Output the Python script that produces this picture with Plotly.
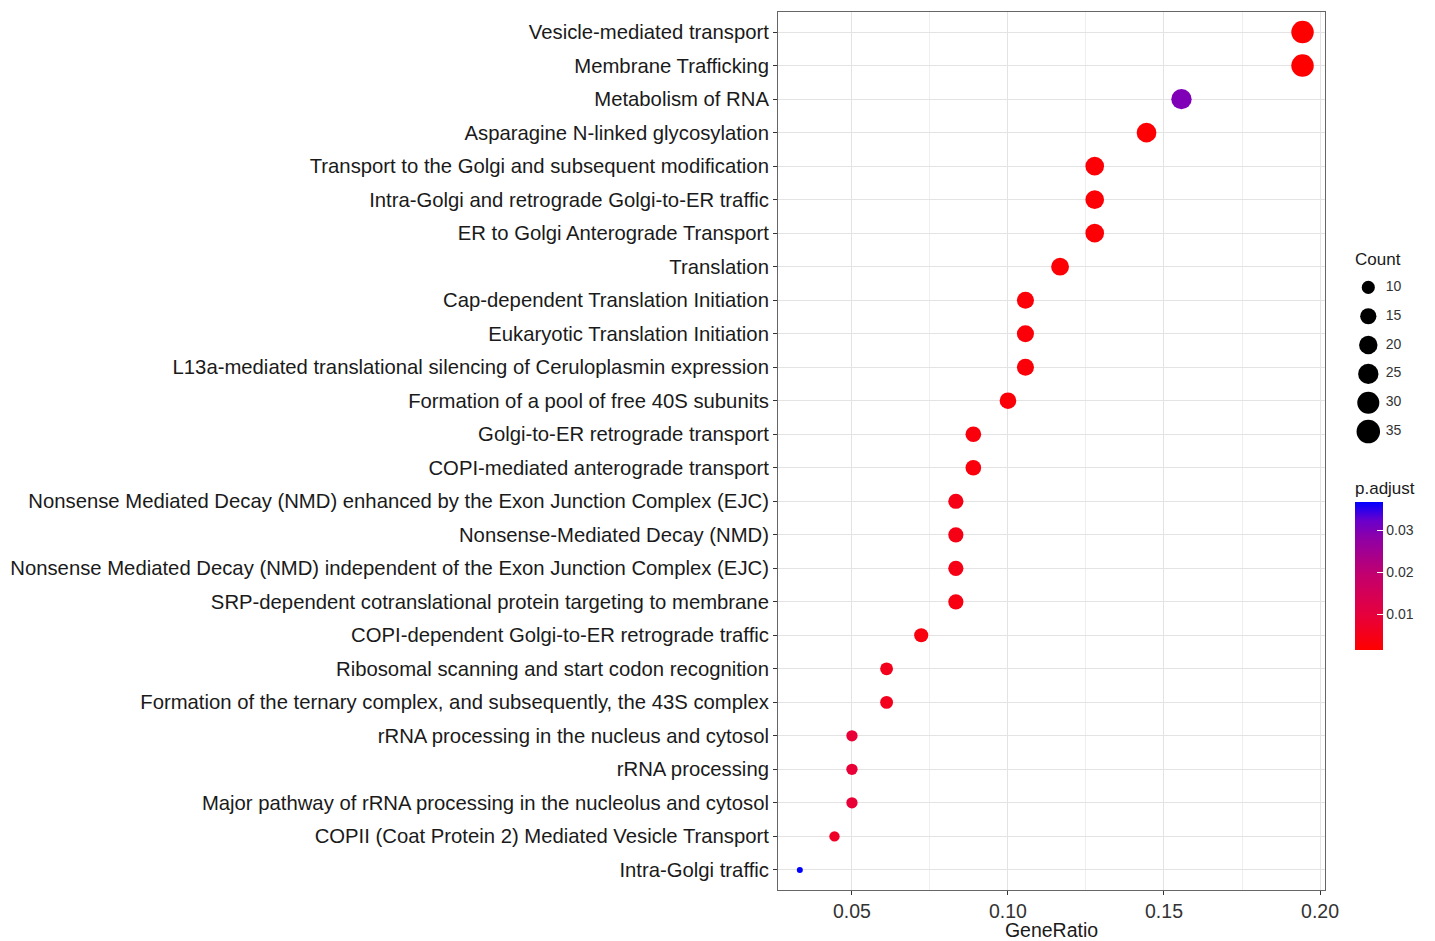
import plotly.graph_objects as go

# Enriched pathways, listed top to bottom
pathways = [
    "Vesicle-mediated transport",
    "Membrane Trafficking",
    "Metabolism of RNA",
    "Asparagine N-linked glycosylation",
    "Transport to the Golgi and subsequent modification",
    "Intra-Golgi and retrograde Golgi-to-ER traffic",
    "ER to Golgi Anterograde Transport",
    "Translation",
    "Cap-dependent Translation Initiation",
    "Eukaryotic Translation Initiation",
    "L13a-mediated translational silencing of Ceruloplasmin expression",
    "Formation of a pool of free 40S subunits",
    "Golgi-to-ER retrograde transport",
    "COPI-mediated anterograde transport",
    "Nonsense Mediated Decay (NMD) enhanced by the Exon Junction Complex (EJC)",
    "Nonsense-Mediated Decay (NMD)",
    "Nonsense Mediated Decay (NMD) independent of the Exon Junction Complex (EJC)",
    "SRP-dependent cotranslational protein targeting to membrane",
    "COPI-dependent Golgi-to-ER retrograde traffic",
    "Ribosomal scanning and start codon recognition",
    "Formation of the ternary complex, and subsequently, the 43S complex",
    "rRNA processing in the nucleus and cytosol",
    "rRNA processing",
    "Major pathway of rRNA processing in the nucleolus and cytosol",
    "COPII (Coat Protein 2) Mediated Vesicle Transport",
    "Intra-Golgi traffic",
]

gene_ratio = [0.1944, 0.1944, 0.1556, 0.1444, 0.1278, 0.1278, 0.1278, 0.1167,
              0.1056, 0.1056, 0.1056, 0.1000, 0.0889, 0.0889, 0.0833, 0.0833,
              0.0833, 0.0833, 0.0722, 0.0611, 0.0611, 0.0500, 0.0500, 0.0500,
              0.0444, 0.0333]

gene_count = [35, 35, 28, 26, 23, 23, 23, 21, 19, 19, 19, 18, 16, 16, 15, 15,
              15, 15, 13, 11, 11, 9, 9, 9, 8, 6]

p_adjust = [0.0015, 0.0016, 0.0300, 0.0020, 0.0022, 0.0022, 0.0022, 0.0024,
            0.0028, 0.0028, 0.0028, 0.0026, 0.0032, 0.0032, 0.0045, 0.0045,
            0.0045, 0.0040, 0.0035, 0.0055, 0.0055, 0.0090, 0.0090, 0.0090,
            0.0070, 0.0368]

count_breaks = [10, 15, 20, 25, 30, 35]
padj_ticks = [0.01, 0.02, 0.03]
x_ticks = [0.05, 0.10, 0.15, 0.20]
x_tick_labels = ["0.05", "0.10", "0.15", "0.20"]

# size scale: area-style mapping of count onto marker diameter (px)
C_MIN, C_MAX = 6, 35
D_MIN, D_MAX = 6.0, 22.5


def diameter(c):
    frac = (c - C_MIN) / (C_MAX - C_MIN)
    return D_MIN + (D_MAX - D_MIN) * max(frac, 0) ** 0.5


P_MIN, P_MAX = 0.0015, 0.0368
colorscale = [
    [0.0, "#FF0000"],
    [0.25, "#E5003F"],
    [0.5, "#C4006C"],
    [0.75, "#9000A5"],
    [0.875, "#6A00CC"],
    [1.0, "#0000FF"],
]

FONT = "Liberation Sans, Arial, Helvetica, sans-serif"
W, H = 1435, 941
ML, MR, MT, MB = 778, 5, 12, 51
PW = W - ML - MR
PH = H - MT - MB
PANEL_RIGHT = 1325


def px_x(px):
    return (px - ML) / PW


def px_y(py):
    return (H - MB - py) / PH


n = len(pathways)
ypos = [n - 1 - i for i in range(n)]

fig = go.Figure()

fig.add_trace(go.Scatter(
    x=gene_ratio,
    y=ypos,
    mode="markers",
    marker=dict(
        size=[diameter(c) for c in gene_count],
        color=p_adjust,
        cmin=P_MIN,
        cmax=P_MAX,
        colorscale=colorscale,
        line=dict(width=0),
        opacity=1,
        colorbar=dict(
            title=dict(text="p.adjust", side="top",
                       font=dict(family=FONT, size=17, color="#1a1a1a")),
            x=px_x(1355), xanchor="left", xpad=0,
            y=px_y(650), yanchor="bottom", ypad=0,
            len=172, lenmode="pixels",
            thickness=28, thicknessmode="pixels",
            outlinewidth=0,
            tickvals=padj_ticks,
            ticktext=[f"{v:.2f}" for v in padj_ticks],
            ticks="inside", ticklen=6, tickcolor="white", tickwidth=1,
            tickfont=dict(family=FONT, size=14, color="#333333"),
        ),
    ),
    showlegend=False,
    hovertemplate="%{x}<extra></extra>",
))

# Count size legend drawn on its own small axes
fig.add_trace(go.Scatter(
    x=[0.19] * len(count_breaks),
    y=list(range(len(count_breaks))),
    mode="markers",
    marker=dict(size=[diameter(c) + 1 for c in count_breaks], color="#000000",
                opacity=1, line=dict(width=0)),
    xaxis="x2", yaxis="y2", showlegend=False, hoverinfo="skip",
))
fig.add_trace(go.Scatter(
    x=[0.44] * len(count_breaks),
    y=list(range(len(count_breaks))),
    mode="text",
    text=[str(c) for c in count_breaks],
    textposition="middle right",
    textfont=dict(family=FONT, size=14, color="#333333"),
    xaxis="x2", yaxis="y2", showlegend=False, hoverinfo="skip",
))

grid_minor = [0.075, 0.125, 0.175]

fig.update_layout(
    width=W, height=H,
    margin=dict(l=ML, r=MR, t=MT, b=MB, autoexpand=False),
    paper_bgcolor="white",
    plot_bgcolor="white",
    font=dict(family=FONT, color="#1a1a1a"),
    xaxis=dict(
        domain=[0, px_x(PANEL_RIGHT)],
        range=[0.0263, 0.2016],
        tickvals=x_ticks, ticktext=x_tick_labels,
        tickfont=dict(family=FONT, size=19.5, color="#333333"),
        ticks="outside", ticklen=4, tickcolor="#333333",
        showgrid=True, gridcolor="#E3E3E3", gridwidth=1.3,
        minor=dict(tickvals=grid_minor, showgrid=True, gridcolor="#EFEFEF", gridwidth=0.9, ticks=""),
        showline=True, linecolor="#666666", linewidth=1, mirror=True,
        zeroline=False,
        title=dict(text="GeneRatio", font=dict(family=FONT, size=19.5, color="#1a1a1a"), standoff=2),
    ),
    yaxis=dict(
        range=[-0.6, n - 0.4],
        tickvals=ypos, ticktext=pathways,
        tickfont=dict(family=FONT, size=20.3, color="#1a1a1a"),
        ticks="outside", ticklen=4, tickcolor="#333333",
        showgrid=True, gridcolor="#E3E3E3", gridwidth=1.3,
        showline=True, linecolor="#666666", linewidth=1, mirror=True,
        zeroline=False,
    ),
    xaxis2=dict(
        domain=[px_x(1355), px_x(1425)], range=[0, 1], anchor="y2",
        visible=False, fixedrange=True,
    ),
    yaxis2=dict(
        domain=[px_y(446), px_y(273)], range=[5.5, -0.5], anchor="x2",
        visible=False, fixedrange=True,
    ),
    annotations=[
        dict(text="Count", xref="paper", yref="paper", x=px_x(1353), y=px_y(259),
             xanchor="left", yanchor="middle", showarrow=False,
             font=dict(family=FONT, size=17, color="#1a1a1a")),
    ],
)

fig.write_html("out.html")
